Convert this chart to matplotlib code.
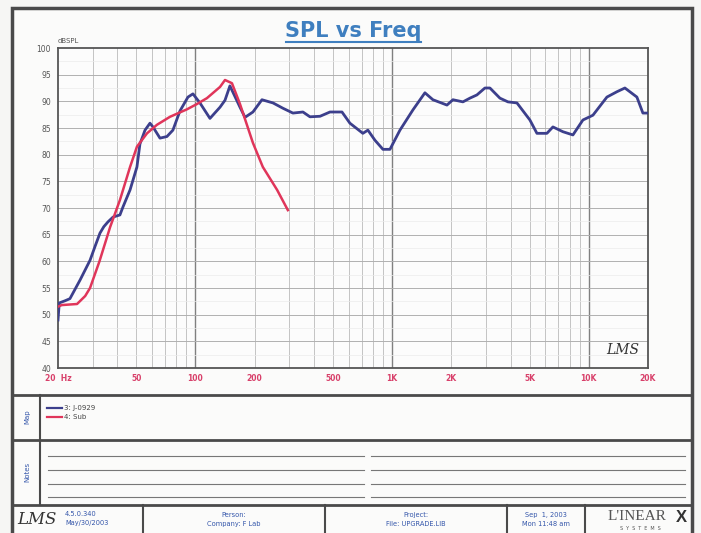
import matplotlib
matplotlib.use("Agg")
import matplotlib.pyplot as plt
from matplotlib.lines import Line2D
from matplotlib.patches import Rectangle
import numpy as np

# 3: J-0929 (blue)
freq_j = [20, 20.3, 21.7, 23.0, 25.9, 29.1, 31.0, 32.7, 34.2, 35.9, 38.1, 41.3, 42.8,
          46.5, 50.4, 52.2, 55.4, 58.7, 60.8, 66.0, 71.6, 76.8, 83.4, 91.6, 97.1,
          105.4, 118.5, 133.3, 141.3, 149.7, 168.4, 178.6, 196, 217.8, 247.9,
          278.6, 313, 352, 382, 430, 483, 556, 610, 710, 753, 818, 898, 975,
          1096, 1276, 1468, 1612, 1900, 2038, 2291, 2487, 2698, 2964, 3142,
          3532, 3880, 4312, 5018, 5448, 6124, 6570, 7388, 8304, 9334, 10496,
          12364, 13900, 15260, 17560, 18840, 20000]
spl_j = [49.0, 52.2, 52.6, 53.0, 56.5, 60.2, 63.0, 65.3, 66.5, 67.4, 68.3, 68.7, 70.2,
         73.4, 77.7, 82.0, 84.6, 85.9, 85.2, 83.1, 83.4, 84.6, 88.2, 90.8, 91.4,
         89.7, 86.8, 88.9, 90.2, 92.9, 88.9, 87.0, 88.0, 90.3, 89.7,
         88.7, 87.8, 88.0, 87.1, 87.2, 88.0, 88.0, 85.9, 84.0, 84.6, 82.7, 81.0, 81.0,
         84.6, 88.4, 91.6, 90.3, 89.3, 90.3, 89.9, 90.6, 91.2, 92.5, 92.5,
         90.6, 89.9, 89.7, 86.5, 84.0, 84.0, 85.2, 84.3, 83.7, 86.5, 87.4,
         90.8, 91.8, 92.5, 90.8, 87.8, 87.8]

# 4: Sub (red)
freq_sub = [20, 20.9, 25.0, 27.5, 29.1, 32.5, 36.8, 41.3, 46.5, 50.4, 56.7, 63.7,
            74.2, 90.5, 101.8, 114.4, 133.3, 141.3, 153.3, 168.4, 196, 220, 260, 295]
spl_sub = [51.5, 51.8, 52.0, 53.5, 55.0, 60.0, 66.4, 71.5, 77.7, 81.5, 84.0, 85.6,
           87.1, 88.5, 89.5, 90.6, 92.7, 94.0, 93.4, 89.5, 82.2, 77.7, 73.4, 69.6]

xtick_vals = [20, 50, 100, 200, 500, 1000, 2000, 5000, 10000, 20000]
xtick_text = ["20  Hz", "50", "100", "200", "500", "1K", "2K", "5K", "10K", "20K"]
yticks = list(range(40, 101, 5))

W, H = 701, 533


def fx(x):
    return x / W


def fy(y):
    return 1 - y / H


fig = plt.figure(figsize=(W / 100, H / 100), dpi=100, facecolor="#f6f6f4")

# page frame (behind everything)
fig.add_artist(Rectangle((fx(12), fy(545)), fx(692) - fx(12), fy(8) - fy(545),
                         transform=fig.transFigure, fill=True, facecolor="#fbfbfa",
                         edgecolor="#4a4a4a", linewidth=2.5, zorder=-5))

# title
fig.text(fx(353), fy(31), "SPL vs Freq", ha="center", va="center",
         fontsize=15, fontweight="bold", color="#3f7fbf")
fig.add_artist(Line2D([fx(286), fx(421)], [fy(42), fy(42)], color="#3f7fbf", lw=1.5))

# chart
ax = fig.add_axes([fx(58), fy(368), fx(648) - fx(58), fy(48) - fy(368)])
ax.set_facecolor("#fcfcfc")
ax.set_xscale("log")
ax.set_xlim(20, 20000)
ax.set_ylim(40, 100)

grid_f = [m * 10 ** e for e in range(1, 5) for m in range(1, 10)]
grid_f = [f for f in grid_f if 20 < f < 20000]
decades = [100, 1000, 10000]
for f in grid_f:
    if f in decades:
        ax.axvline(f, color="#808080", lw=1.0, zorder=1)
    else:
        ax.axvline(f, color="#c4c4c4", lw=0.7, zorder=1)
for v in np.arange(42.5, 100, 5):
    ax.axhline(v, color="#ebebeb", lw=0.5, zorder=1)
for v in yticks[1:-1]:
    ax.axhline(v, color="#b0b0b0", lw=0.7, zorder=1)

ax.plot(freq_j, spl_j, color="#3c3f8c", lw=2.0, zorder=3)
ax.plot(freq_sub, spl_sub, color="#e0355a", lw=1.8, zorder=4)

ax.set_xticks(xtick_vals)
ax.set_xticklabels(xtick_text)
ax.xaxis.set_minor_locator(matplotlib.ticker.NullLocator())
ax.set_yticks(yticks)
ax.tick_params(axis="x", length=0, labelsize=5.5, labelcolor="#d8406a", pad=4)
ax.tick_params(axis="y", length=0, labelsize=5.5, labelcolor="#555555", pad=5)
for lab in ax.get_xticklabels():
    lab.set_fontweight("bold")
for s in ax.spines.values():
    s.set_color("#555555")
    s.set_linewidth(1.3)
ax.text(0.0, 1.012, "dBSPL", transform=ax.transAxes, fontsize=5, color="#555555",
        va="bottom", ha="left")
ax.text(0.985, 0.035, "LMS", transform=ax.transAxes, fontsize=10, style="italic",
        family="DejaVu Serif", color="#333333", ha="right", va="bottom")

# panel separators
for y in [395, 440, 505]:
    fig.add_artist(Line2D([fx(12), fx(692)], [fy(y), fy(y)], color="#4a4a4a", lw=2.0))
fig.add_artist(Line2D([fx(40), fx(40)], [fy(395), fy(505)], color="#4a4a4a", lw=1.5))
for x in [143, 325, 507, 585]:
    fig.add_artist(Line2D([fx(x), fx(x)], [fy(505), fy(545)], color="#4a4a4a", lw=1.5))

fig.text(fx(27), fy(417), "Map", rotation=90, ha="center", va="center",
         fontsize=5, color="#3355aa")
fig.text(fx(27), fy(472), "Notes", rotation=90, ha="center", va="center",
         fontsize=5, color="#3355aa")

# map legend
fig.add_artist(Line2D([fx(47), fx(62)], [fy(408), fy(408)], color="#3c3f8c", lw=1.6))
fig.text(fx(64), fy(408), "3: J-0929", fontsize=5, color="#444444", va="center")
fig.add_artist(Line2D([fx(47), fx(62)], [fy(417), fy(417)], color="#e0355a", lw=1.6))
fig.text(fx(64), fy(417), "4: Sub", fontsize=5, color="#444444", va="center")

# notes lines
for y in [456, 470, 484, 497]:
    fig.add_artist(Line2D([fx(48), fx(364)], [fy(y), fy(y)], color="#777777", lw=0.8))
    fig.add_artist(Line2D([fx(371), fx(685)], [fy(y), fy(y)], color="#777777", lw=0.8))

# footer
fig.text(fx(37), fy(519), "LMS", fontsize=12, style="italic", family="DejaVu Serif",
         color="#333333", ha="center", va="center")
fig.text(fx(65), fy(514), "4.5.0.340", fontsize=4.8, color="#3355aa", va="center")
fig.text(fx(65), fy(523), "May/30/2003", fontsize=4.8, color="#3355aa", va="center")
fig.text(fx(234), fy(515), "Person:", fontsize=4.8, color="#3355aa", ha="center", va="center")
fig.text(fx(234), fy(524), "Company: F Lab", fontsize=4.8, color="#3355aa", ha="center", va="center")
fig.text(fx(416), fy(515), "Project:", fontsize=4.8, color="#3355aa", ha="center", va="center")
fig.text(fx(416), fy(524), "File: UPGRADE.LIB", fontsize=4.8, color="#3355aa", ha="center", va="center")
fig.text(fx(546), fy(515), "Sep  1, 2003", fontsize=4.8, color="#3355aa", ha="center", va="center")
fig.text(fx(546), fy(524), "Mon 11:48 am", fontsize=4.8, color="#3355aa", ha="center", va="center")
fig.text(fx(637), fy(517), "L'INEAR", fontsize=11, family="Liberation Serif",
         color="#555555", ha="center", va="center")
fig.text(fx(681), fy(517), "X", fontsize=12, fontweight="bold", family="Liberation Sans",
         color="#333333", ha="center", va="center")
fig.text(fx(640), fy(529), "S  Y  S  T  E  M  S", fontsize=3.5, color="#555555",
         ha="center", va="center")

fig.savefig("out.png", dpi=100, facecolor=fig.get_facecolor())
